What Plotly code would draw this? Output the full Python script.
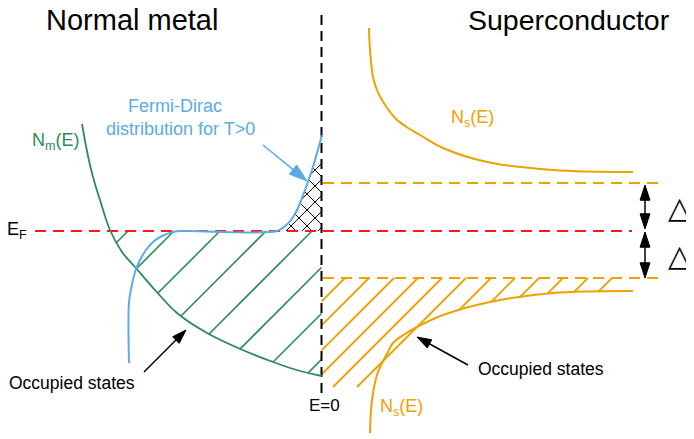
import numpy as np
import plotly.graph_objects as go

W, H = 694, 439
PAGE_MARGIN = 8  # default body margin of the html page
FONT = "Liberation Sans, Arial, sans-serif"

GREEN = "#2e8b57"
BLUE = "#5aabe6"
ORANGE = "#f0a000"
RED = "#ff1a1a"

# ---- curves (diagram coordinates) ----
NM_X = [82, 86, 90, 95, 100, 110, 122, 135, 155, 177, 207, 238, 273, 300, 322]
NM_Y = [124, 146, 165, 184, 200, 230, 252, 267, 290, 313, 333, 348, 362, 371, 376]

FD_X = [129, 129, 131.5, 135, 140, 146, 153, 162, 173, 185, 277, 285, 291, 297, 305, 312, 317, 322]
FD_Y = [363, 302, 287, 272, 260, 250, 242, 236, 232, 231, 231, 226, 220, 210, 190, 170, 153, 135]

NS_UP_X = [369, 370, 373, 377, 382, 390, 397, 408, 420, 443, 487, 553, 633]
NS_UP_Y = [28, 50, 77, 90, 100, 112, 120, 128, 135, 148, 162, 170, 172]

NS_LO_X = [370, 371, 373, 377, 382, 388, 393, 405, 417, 443, 490, 553, 633]
NS_LO_Y = [433, 410, 393, 375, 363, 352, 343, 334, 327, 315, 302, 293, 291]

# ---- levels ----
E0_X = 321.5
E0_Y = [15, 398]
EF_Y = 231
EF_X = [35, 632]
GAP_Y = [183, 278]
GAP_X = [323, 660]

# ---- hatch line offsets ----
GREEN_C = [359, 405, 451, 497, 543, 589, 635, 681]
ORANGE_C = [623, 647, 672, 696, 720, 744, 769, 793, 817, 841, 866, 890]
CROSS_C = [485, 501, 517, 533, 549]
CROSS_D = [49, 65, 81, 97, 113, 129, 145]

# ---- arrows: (tail x, tail y, tip x, tip y) ----
ARROW_FD = (263, 145, 307, 181)
ARROW_OCC_L = (144, 372, 186, 330)
ARROW_OCC_R = (468, 365, 417, 337)
GAP_ARROW_X = 645
GAP_ARROWS = [(207, 185), (207, 229), (255, 232), (255, 278)]  # (mid y, tip y)


def clip(c, kind, xl, xr, y0, y1):
    ys = np.linspace(y0, y1, 3000)
    xs = c - ys if kind == "/" else ys + c
    ok = (xs >= xl(ys)) & (xs <= xr(ys))
    idx = np.where(ok)[0]
    if len(idx) < 2:
        return None
    return [xs[idx[0]], xs[idx[-1]]], [ys[idx[0]], ys[idx[-1]]]


def hatch(cs, kind, xl, xr, y0, y1):
    X, Y = [], []
    for c in cs:
        r = clip(c, kind, xl, xr, y0, y1)
        if r:
            X += r[0] + [None]
            Y += r[1] + [None]
    return X, Y


nm_y = np.array(NM_Y, float); nm_x = np.array(NM_X, float)
fd_up = [(x, y) for x, y in zip(FD_X, FD_Y) if y <= EF_Y and x >= 270]
fd_up.sort(key=lambda p: p[1])
fdu_y = np.array([p[1] for p in fd_up]); fdu_x = np.array([p[0] for p in fd_up])
lo = sorted(zip(NS_LO_Y, NS_LO_X))
lo_y = np.array([p[0] for p in lo], float); lo_x = np.array([p[1] for p in lo], float)

green_l = lambda ys: np.interp(ys, nm_y, nm_x)
right_e0 = lambda ys: np.full_like(ys, E0_X)
blue_l = lambda ys: np.interp(ys, fdu_y, fdu_x)
orange_r = lambda ys: np.interp(ys, lo_y, lo_x)

fig = go.Figure()

gx, gy = hatch(GREEN_C, "/", green_l, right_e0, EF_Y, 385)
fig.add_trace(go.Scatter(x=gx, y=gy, mode="lines", line=dict(color=GREEN, width=1.6)))

ox, oy = hatch(ORANGE_C, "/", right_e0, orange_r, GAP_Y[1], 387)
fig.add_trace(go.Scatter(x=ox, y=oy, mode="lines", line=dict(color=ORANGE, width=1.8)))

cx1, cy1 = hatch(CROSS_C, "/", blue_l, right_e0, 140, EF_Y)
cx2, cy2 = hatch(CROSS_D, "\\", blue_l, right_e0, 140, EF_Y)
fig.add_trace(go.Scatter(x=cx1 + cx2, y=cy1 + cy2, mode="lines", line=dict(color="black", width=1)))

# level lines
fig.add_trace(go.Scatter(x=EF_X, y=[EF_Y, EF_Y], mode="lines",
                         line=dict(color=RED, width=2, dash="11px,7px")))
for gyv in GAP_Y:
    fig.add_trace(go.Scatter(x=GAP_X, y=[gyv, gyv], mode="lines",
                             line=dict(color=ORANGE, width=2, dash="11px,7px")))
fig.add_trace(go.Scatter(x=[E0_X, E0_X], y=E0_Y, mode="lines",
                         line=dict(color="black", width=2, dash="10px,6px")))

# curves
fig.add_trace(go.Scatter(x=NM_X, y=NM_Y, mode="lines", line=dict(color=GREEN, width=1.8, shape="spline")))
fig.add_trace(go.Scatter(x=FD_X, y=FD_Y, mode="lines", line=dict(color=BLUE, width=2, shape="spline")))
fig.add_trace(go.Scatter(x=NS_UP_X, y=NS_UP_Y, mode="lines", line=dict(color=ORANGE, width=2, shape="spline")))
fig.add_trace(go.Scatter(x=NS_LO_X, y=NS_LO_Y, mode="lines", line=dict(color=ORANGE, width=2, shape="spline")))


def arrow(x0, y0, x1, y1, color, size, width):
    fig.add_trace(go.Scatter(
        x=[x0, x1], y=[y0, y1], mode="lines+markers",
        line=dict(color=color, width=width),
        marker=dict(symbol="arrow", size=[0, size], angleref="previous", color=color,
                    opacity=1, line=dict(width=1, color=color)),
    ))


arrow(*ARROW_FD, BLUE, 19, 1.6)
arrow(*ARROW_OCC_L, "black", 15, 1.5)
arrow(*ARROW_OCC_R, "black", 15, 1.5)
for my, ty in GAP_ARROWS:
    arrow(GAP_ARROW_X, my, GAP_ARROW_X, ty, "black", 16, 1.5)

ann = []


def txt(x, y, s, size, color="black", family=FONT):
    ann.append(dict(x=x, y=y, text=s, showarrow=False, xanchor="center", yanchor="middle",
                    font=dict(family=family, size=size, color=color)))


txt(132, 19.5, "Normal metal", 29)
txt(569, 19.5, "Superconductor", 28.5)
txt(175, 106, "Fermi-Dirac", 18, BLUE)
txt(180, 129, "distribution for T>0", 18, BLUE)
txt(56, 141, "N<sub>m</sub>(E)", 18, GREEN)
txt(17, 230, "E<sub>F</sub>", 18)
txt(472, 118, "N<sub>s</sub>(E)", 18, ORANGE)
txt(401, 407, "N<sub>s</sub>(E)", 18, ORANGE)
txt(72, 383, "Occupied states", 17.5)
txt(541, 369, "Occupied states", 17.5)
txt(324, 405, "E=0", 17)
txt(679, 207, "△", 30, family="DejaVu Sans")
txt(679, 255, "△", 30, family="DejaVu Sans")

fig.update_layout(
    width=W, height=H, margin=dict(l=0, r=0, t=0, b=0),
    paper_bgcolor="white", plot_bgcolor="white", showlegend=False,
    xaxis=dict(range=[PAGE_MARGIN, W + PAGE_MARGIN], visible=False, fixedrange=True),
    yaxis=dict(range=[H + PAGE_MARGIN, PAGE_MARGIN], visible=False, fixedrange=True),
    annotations=ann,
)
fig.write_html("out.html")
